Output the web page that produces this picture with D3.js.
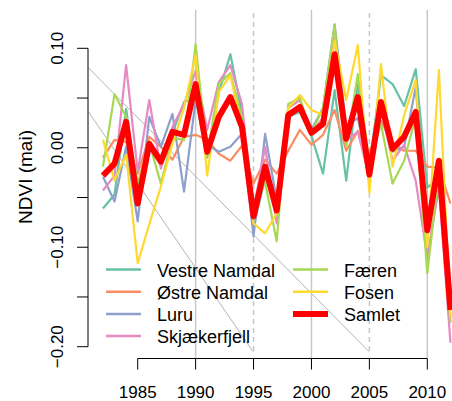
<!DOCTYPE html>
<html>
<head>
<meta charset="utf-8">
<script src="https://cdn.jsdelivr.net/npm/d3@7"></script>
<style>
  body { margin: 0; background: #fff; }
  svg { display: block; font-family: "Liberation Sans", Arial, sans-serif; }
</style>
</head>
<body>
<div class="chart"></div>
<script>
var width = 452, height = 401;

// years and the series (NDVI anomaly, May)
var years = d3.range(1982, 2013);
var vestreNamdal = [-0.061, -0.047, 0.039, -0.045, 0.000, -0.015, 0.015, 0.046, 0.050, -0.010, 0.055, 0.094, 0.035, -0.080, -0.030, -0.053, 0.031, 0.036, 0.012, -0.026, 0.058, -0.033, 0.064, -0.020, 0.073, 0.064, 0.042, 0.079, -0.040, -0.030, -0.170];
var ostreNamdal = [-0.010, 0.008, 0.006, -0.026, 0.011, 0.001, -0.012, 0.011, 0.013, 0.008, -0.006, -0.013, 0.002, -0.036, -0.012, -0.026, -0.003, 0.018, 0.003, 0.013, 0.038, -0.003, 0.017, -0.005, 0.027, 0.004, -0.003, -0.003, -0.019, -0.020, -0.056];
var luru = [-0.029, -0.054, 0.001, -0.074, 0.031, 0.001, 0.034, -0.044, 0.048, 0.003, -0.004, 0.001, 0.014, -0.089, 0.014, -0.053, 0.035, 0.041, 0.018, 0.040, 0.124, 0.021, 0.030, -0.025, 0.040, -0.004, 0.001, 0.061, -0.080, -0.035, -0.150];
var skjaekerfjell = [-0.043, -0.028, 0.083, -0.024, 0.048, -0.021, 0.021, 0.044, 0.077, 0.018, 0.066, 0.083, 0.044, -0.063, 0.001, -0.076, 0.040, 0.048, 0.016, 0.030, 0.110, 0.008, 0.016, -0.030, 0.038, -0.013, 0.003, -0.033, -0.110, -0.040, -0.196];
var faeren = [-0.019, 0.054, 0.031, -0.036, 0.005, -0.036, 0.010, 0.008, 0.104, -0.008, 0.064, 0.075, 0.030, -0.059, -0.035, -0.094, 0.044, 0.050, 0.015, 0.040, 0.123, 0.001, 0.074, -0.015, 0.024, -0.036, -0.013, 0.031, -0.126, -0.025, -0.176];
var fosen = [0.008, -0.033, -0.007, -0.116, -0.077, -0.039, 0.004, 0.040, 0.093, -0.028, 0.056, 0.073, 0.020, -0.076, -0.086, -0.066, 0.040, 0.053, 0.038, 0.033, 0.108, 0.048, 0.103, -0.045, 0.084, -0.019, 0.033, 0.068, -0.100, 0.078, -0.170];
var samlet = [-0.028, -0.016, 0.026, -0.056, 0.004, -0.014, 0.016, 0.013, 0.064, -0.004, 0.031, 0.051, 0.021, -0.069, -0.019, -0.063, 0.033, 0.041, 0.015, 0.024, 0.094, 0.009, 0.051, -0.027, 0.046, -0.001, 0.011, 0.036, -0.083, -0.013, -0.163];

var seriesNames = ["Vestre Namdal", "Østre Namdal", "Luru", "Skjækerfjell", "Færen", "Fosen", "Samlet"];
var seriesValues = [vestreNamdal, ostreNamdal, luru, skjaekerfjell, faeren, fosen, samlet];
var seriesColors = ["#66c2a5", "#fc8d62", "#8da0cb", "#e78ac3", "#a6d854", "#ffd92f", "#ff0000"];

var xTicks = [1985, 1990, 1995, 2000, 2005, 2010];
var yTicks = [-0.20, -0.15, -0.10, -0.05, 0.00, 0.05, 0.10];
var yLabels = [-0.20, -0.10, 0.00, 0.10];
var solidYears = [1990, 2000, 2010];
var dashedYears = [1995, 2005];
// two grey reference lines (start and end in data units)
var refLines = [
  [[1980.72, 0.0807], [2004.97, -0.205]],
  [[1980.72, 0.0366], [1994.96, -0.205]]
];

var x = d3.scaleLinear().domain([1985, 2010]).range([137.7, 427.3]);
var y = d3.scaleLinear().domain([-0.2, 0.1]).range([346.7, 48.3]);

var svg = d3.select(".chart").append("svg")
  .attr("width", width)
  .attr("height", height);

// vertical guide lines
svg.append("g").selectAll("line")
  .data(solidYears)
  .enter().append("line")
  .attr("x1", function (d) { return x(d) }).attr("x2", function (d) { return x(d) })
  .attr("y1", 10).attr("y2", 358)
  .attr("stroke", "#c8c8c8")
  .attr("stroke-width", 1.5);

svg.append("g").selectAll("line")
  .data(dashedYears)
  .enter().append("line")
  .attr("x1", function (d) { return x(d) }).attr("x2", function (d) { return x(d) })
  .attr("y1", 13).attr("y2", 352)
  .attr("stroke", "#c8c8c8")
  .attr("stroke-width", 1.5)
  .attr("stroke-dasharray", "5,4");

svg.append("g").selectAll("line")
  .data(refLines)
  .enter().append("line")
  .attr("x1", function (d) { return x(d[0][0]) })
  .attr("y1", function (d) { return y(d[0][1]) })
  .attr("x2", function (d) { return x(d[1][0]) })
  .attr("y2", function (d) { return y(d[1][1]) })
  .attr("stroke", "#b4b4b4")
  .attr("stroke-width", 1);

// series
var line = d3.line()
  .x(function (d, i) { return x(years[i]) })
  .y(function (d) { return y(d) });

svg.append("g").selectAll("path")
  .data(seriesValues)
  .enter().append("path")
  .attr("d", line)
  .attr("fill", "none")
  .attr("stroke", function (d, i) { return seriesColors[i] })
  .attr("stroke-width", function (d, i) { return i === 6 ? 6 : 2.2 })
  .attr("stroke-linejoin", "round");

// y axis
var yAxis = svg.append("g").attr("transform", "translate(88,0)");
yAxis.append("line")
  .attr("x1", 0).attr("x2", 0)
  .attr("y1", y(-0.2)).attr("y2", y(0.1))
  .attr("stroke", "#000");
yAxis.selectAll(".tick")
  .data(yTicks)
  .enter().append("line")
  .attr("x1", -11).attr("x2", 0)
  .attr("y1", function (d) { return y(d) }).attr("y2", function (d) { return y(d) })
  .attr("stroke", "#000");
yAxis.selectAll("text")
  .data(yLabels)
  .enter().append("text")
  .attr("transform", function (d) { return "translate(-25," + y(d) + ") rotate(-90)" })
  .attr("text-anchor", "middle")
  .attr("font-size", 17)
  .text(function (d) { return d3.format(".2f")(d) });

svg.append("text")
  .attr("transform", "translate(32,177) rotate(-90)")
  .attr("text-anchor", "middle")
  .attr("font-size", 19)
  .text("NDVI (mai)");

// x axis
var xAxis = svg.append("g").attr("transform", "translate(0,358.5)");
xAxis.append("line")
  .attr("x1", x(1985)).attr("x2", x(2010))
  .attr("y1", 0).attr("y2", 0)
  .attr("stroke", "#000");
xAxis.selectAll(".tick")
  .data(xTicks)
  .enter().append("line")
  .attr("x1", function (d) { return x(d) }).attr("x2", function (d) { return x(d) })
  .attr("y1", 0).attr("y2", 11)
  .attr("stroke", "#000");
xAxis.selectAll("text")
  .data(xTicks)
  .enter().append("text")
  .attr("x", function (d) { return x(d) })
  .attr("y", 39)
  .attr("text-anchor", "middle")
  .attr("font-size", 17)
  .text(function (d) { return d });

// legend, two columns
var legend = svg.append("g");
var legendItems = legend.selectAll("g")
  .data(seriesNames)
  .enter().append("g")
  .attr("transform", function (d, i) {
    var col = i < 4 ? 0 : 1;
    var row = i < 4 ? i : i - 4;
    return "translate(" + (col === 0 ? 106 : 293) + "," + (269.5 + row * 22.2) + ")";
  });
legendItems.append("line")
  .attr("x1", 0).attr("x2", 35)
  .attr("y1", 0).attr("y2", 0)
  .attr("stroke", function (d, i) { return seriesColors[i] })
  .attr("stroke-width", function (d, i) { return i === 6 ? 6 : 2.5 });
legendItems.append("text")
  .attr("x", 51)
  .attr("y", 7)
  .attr("font-size", 18)
  .text(function (d) { return d });
</script>
</body>
</html>
